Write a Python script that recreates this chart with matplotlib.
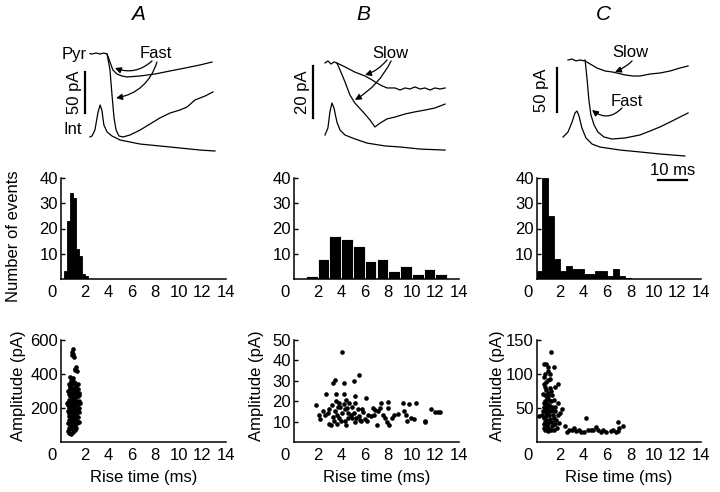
import matplotlib
matplotlib.use('Agg')
import matplotlib.pyplot as plt
from matplotlib.transforms import ScaledTranslation

plt.rcParams['font.family'] = ['Liberation Sans', 'DejaVu Sans']
plt.rcParams['font.size'] = 12

W, H = 720, 492
MS_PX = 2.9  # pixels per ms in the trace panels

# ---------------- traces (ms, pA) ----------------
# column A
a_pyr_small_t = [-0.7, 0, 1.4, 2.8, 4.1, 5.2, 6.2, 7.2, 8.6, 10.3, 12.1, 16.6, 21.7, 26.9, 32.1, 37.2, 41.4]
a_pyr_small_i = [0.5, 0, 1.2, 0, 1.2, 0, -9.8, -19.5, -24.4, -26.8, -28, -26.8, -24.4, -20.7, -17.1, -13.4, -9.8]
a_pyr_big_t = [5.2, 6.2, 6.9, 7.6, 8.3, 9.3, 10.7, 13.1, 16.6, 20, 23.4, 26.9, 30.3, 32.8, 35.5, 39, 41.7]
a_pyr_big_i = [0, -19.5, -50, -78, -92.7, -100, -101.2, -98.8, -92.7, -85.4, -78, -72, -68.3, -64.6, -56.1, -51.2, -46.3]
a_int_t = [-0.7, 0, 1, 2.1, 2.8, 3.4, 4.1, 5.2, 6.9, 9.7, 16.6, 26.9, 37.2, 42.4]
a_int_i = [-101.2, -100, -92.7, -70.7, -62.2, -68.3, -86.6, -95.1, -100, -104.9, -109.8, -113.4, -117.1, -118.3]

# column B
b_pyr_small_t = [0, 1.0, 2.1, 3.1, 4.1, 6.9, 10.3, 13.8, 16.2, 17.9, 19.7, 21.4, 24.1, 25.9, 27.6, 29.3,
                 31, 32.8, 34.5, 36.2, 37.9, 39.7, 41.4]
b_pyr_small_i = [0, 0.8, -0.4, 0.4, 0, -1.5, -3.5, -5, -6.5, -7.7, -8.8, -9.6, -9.6, -10.4, -9.6, -10,
                 -9.2, -10, -9.6, -10.4, -9.6, -10, -9.6]
b_pyr_big_t = [4.1, 5.5, 6.9, 8.6, 10.3, 13.1, 15.5, 17.2, 19, 21.4, 24.1, 27.6, 31, 34.5, 37.9, 41.4]
b_pyr_big_i = [0, -3.5, -7.3, -12.3, -15.4, -18.8, -21.9, -24.6, -23.1, -21.5, -20.8, -19.6, -18.8, -18.1, -17.3, -15.8]
b_int_t = [0, 1, 1.7, 2.4, 3.1, 4.1, 5.2, 6.9, 10.3, 14.5, 20.7, 25.9, 32.8, 41.4]
b_int_i = [-27.7, -25, -18.8, -15.4, -17.3, -22.7, -25.8, -27.7, -29.2, -30.8, -31.9, -32.3, -33.1, -33.5]

# column C
c_pyr_small_t = [0, 1.4, 2.8, 4.1, 5.9, 7.6, 10, 12.8, 15.2, 16.9, 19.7, 22.4, 24.8, 28.3, 31.7, 35.2, 38.6, 41.4]
c_pyr_small_i = [0, 1.1, -1.1, 0, -1.1, -4.5, -9.1, -12.5, -13.6, -14.8, -17, -18.2, -18.2, -15.9, -14.8, -12.5, -9.1, -6.8]
c_pyr_big_t = [5.9, 6.6, 7.2, 7.9, 9, 10.3, 12.4, 15.2, 19.7, 24.8, 28.3, 31.7, 35.2, 38.6, 41.4]
c_pyr_big_i = [0, -22.7, -45.5, -62.5, -73.9, -81.8, -87.5, -89.8, -88.6, -85.2, -80.7, -76.1, -70.5, -64.8, -60.2]
c_int_t = [-1.7, 0, 1.4, 2.4, 3.1, 3.8, 4.8, 6.2, 8.3, 11, 17.9, 24.8, 31.7, 40.3]
c_int_i = [-87.5, -81.8, -70.5, -60.2, -58, -63.6, -77.3, -88.6, -95.5, -98.9, -102.3, -104.5, -106.8, -109.1]

# ---------------- histograms ----------------
hist_a_edges = [0.25, 0.5, 0.75, 1.0, 1.25, 1.5, 1.75, 2.0]
hist_a_counts = [3, 23, 34, 32, 12, 9, 2, 1]
hist_b_edges = [1, 2, 3, 4, 5, 6, 7, 8, 9, 10, 11, 12]
hist_b_counts = [1, 8, 17, 16, 13, 7, 8, 3, 5, 2, 4, 2]
hist_c_edges = [0, 0.5, 1.0, 1.5, 2.0, 2.5, 3.0, 3.5, 4.0, 4.5, 5.0, 5.5, 6.0, 6.5, 7.0, 7.5]
hist_c_counts = [3, 40, 25, 8, 3, 5, 4, 4, 2, 2, 3, 3, 1, 4, 1, 0.5]

# ---------------- scatter (rise time ms, amplitude pA) ----------------
scat_a_x = [0.95, 1.05, 1.0, 1.1, 0.9, 1.15, 1.3, 1.2, 1.35, 0.8, 0.9, 1.0, 0.85, 1.2, 1.4, 1.3, 0.7,
            0.75, 0.9, 1.0, 1.1, 1.25, 1.45, 1.5, 0.6, 0.65, 0.8, 0.95, 1.05, 1.15, 1.3, 1.4, 1.55,
            0.7, 0.85, 1.0, 1.2, 1.35, 1.5, 0.55, 0.6, 0.75, 0.9, 1.05, 1.2, 1.3, 1.45, 1.6,
            0.65, 0.8, 0.95, 1.1, 1.25, 1.4, 1.55, 0.6, 0.7, 0.85, 1.0, 1.15, 1.3, 1.5,
            0.65, 0.8, 0.95, 1.1, 1.2, 1.35, 1.45, 0.7, 0.85, 1.0, 1.15, 1.3, 1.4, 1.5,
            0.6, 0.75, 0.9, 1.05, 1.2, 1.35, 0.65, 0.8, 0.95, 1.1, 1.25, 0.6, 0.7, 0.85, 1.0, 1.15,
            0.75, 0.95, 1.1, 0.8, 1.0, 1.25, 0.9, 1.05, 1.2, 0.7, 0.85, 1.1, 0.95]
scat_a_y = [530, 520, 545, 500, 510, 430, 440, 425, 420, 380, 370, 375, 360, 350, 340, 330, 340,
            320, 310, 300, 320, 300, 310, 290, 300, 280, 270, 280, 260, 275, 265, 270, 275,
            250, 240, 245, 250, 235, 240, 230, 220, 210, 215, 220, 210, 215, 225, 230,
            200, 190, 195, 200, 185, 195, 200, 180, 170, 175, 170, 180, 165, 175,
            155, 150, 160, 150, 140, 150, 145, 130, 125, 135, 120, 125, 115, 120,
            110, 100, 105, 95, 100, 110, 85, 80, 75, 85, 80, 65, 55, 50, 60, 70,
            330, 340, 355, 290, 225, 230, 140, 185, 290, 235, 205, 240, 120]

scat_b_x = [1.9, 2.15, 2.2, 2.5, 2.75, 2.85, 2.95, 3.1, 3.2, 3.35, 3.5, 3.55, 3.5, 3.4, 3.65, 3.65,
            3.8, 3.85, 3.9, 4.1, 4.1, 4.2, 4.2, 4.25, 4.35, 4.45, 4.5, 4.55, 4.65, 4.8, 4.95, 5.05,
            5.1, 5.15, 5.2, 5.2, 5.4, 5.5, 5.55, 5.7, 5.85, 6.0, 6.15, 6.2, 6.5, 6.7, 6.75, 7.05,
            7.1, 7.3, 7.4, 7.55, 7.75, 7.9, 7.95, 7.95, 8.1, 8.3, 8.5, 8.8, 9.25, 9.35, 9.5, 9.6,
            9.75, 9.95, 10.2, 10.35, 11.1, 11.15, 11.65, 12.0, 12.2, 12.4,
            3.0, 3.3, 3.7, 4.0, 4.3, 4.6, 4.9, 5.3, 5.8, 6.3, 3.6, 4.4, 2.6, 5.6, 6.9]
scat_b_y = [18.2, 13.4, 11.5, 15, 23.4, 14.2, 8.9, 8.5, 17.9, 29, 30.6, 23.4, 15, 10.5, 13.4, 8.9,
            19.2, 11.8, 17.4, 44, 14.2, 28.7, 23.4, 18.5, 10.2, 8.5, 16.6, 14.2, 19, 13.4, 11.8, 14.2,
            29.8, 22.6, 19, 9.8, 16.3, 12.6, 32.7, 10.2, 14.7, 11.5, 21.8, 10.2, 12.6, 16.6, 13.1, 8.5,
            15, 16.6, 19, 13.4, 11.8, 9.8, 19.4, 16.9, 8.5, 11.8, 13.1, 13.7, 19, 15.3, 13.4, 10.2,
            18.4, 11.8, 11.5, 19, 10.5, 9.8, 16.3, 14.7, 14.7, 14.7,
            16, 12.5, 17, 10.5, 16, 12, 17, 12, 16, 13, 20, 20.5, 13, 11, 15.5]

scat_c_x = [1.2, 0.6, 0.8, 1.5, 1.0, 1.15, 1.8, 1.55, 0.6, 0.7, 0.85, 1.0, 1.15, 0.75, 1.0, 1.3,
            0.6, 0.85, 1.2, 1.5, 1.85, 2.15, 0.25, 0.45, 0.75, 1.0, 1.3, 1.55, 0.6, 0.85, 1.15, 1.45,
            1.85, 2.0, 0.6, 0.8, 1.0, 1.3, 1.55, 1.95, 1.0, 1.25, 1.45,
            2.45, 2.6, 2.8, 3.0, 3.2, 3.4, 3.65, 3.8, 4.05, 4.2, 4.4, 4.6, 4.85, 5.05, 5.25, 5.45,
            5.7, 5.9, 6.3, 6.55, 6.8, 6.9, 7.05, 7.35, 6.95,
            0.55, 0.65, 0.7, 0.75, 0.8, 0.85, 0.9, 0.95, 0.9, 0.95, 1.05, 1.1, 1.1, 1.2, 1.25, 1.35,
            1.4, 0.65, 0.7, 0.8, 0.9, 1.0, 0.55, 0.6, 0.7, 0.75, 0.95, 1.05, 1.15, 1.3, 1.6, 1.7, 1.75]
scat_c_y = [132, 114, 114, 110, 105, 100, 86, 81, 86, 81, 76, 91, 93, 69, 67, 69,
            57, 58, 60, 62, 58, 49, 38, 40, 47, 50, 47, 45, 35, 38, 34, 36,
            40, 43, 26, 28, 21, 23, 27, 28, 16, 17, 18,
            23, 15, 18, 17, 20, 16, 18, 15, 15, 35, 17, 18, 17, 22, 18, 15,
            17, 15, 16, 18, 14, 30, 21, 23, 16,
            45, 52, 30, 60, 42, 33, 55, 72, 25, 45, 40, 55, 30, 45, 75, 52,
            40, 95, 100, 88, 65, 110, 70, 20, 18, 50, 28, 62, 80, 30, 52, 33, 20]

fig = plt.figure(figsize=(W / 100, H / 100), dpi=100)


def px_axes(x0, y0, x1, y1):
    return fig.add_axes([x0 / W, 1 - y1 / H, (x1 - x0) / W, (y1 - y0) / H])


def trace_axes(box, origin, pa_px):
    x0, y0, x1, y1 = box
    ox, oy = origin
    ax = px_axes(x0, y0, x1, y1)
    ax.set_xlim((x0 - ox) / MS_PX, (x1 - ox) / MS_PX)
    ax.set_ylim(-(y1 - oy) / pa_px, -(y0 - oy) / pa_px)
    ax.axis('off')
    ax.set_zorder(5)  # keep the 10 ms bar above the histogram axes
    return ax


def arrow(ax, text_xy, head_xy, rad):
    ax.annotate('', xy=head_xy, xytext=text_xy,
                arrowprops=dict(arrowstyle='-|>', color='black', lw=0.9,
                                mutation_scale=9, shrinkA=0, shrinkB=0,
                                connectionstyle=f'arc3,rad={rad}'))


tr_kw = dict(color='black', lw=0.9)

# ---- traces A ----
ax = trace_axes((60, 45, 220, 160), (92, 54), 0.82)
ax.plot(a_pyr_small_t, a_pyr_small_i, **tr_kw)
ax.plot(a_pyr_big_t, a_pyr_big_i, **tr_kw)
ax.plot(a_int_t, a_int_i, **tr_kw)
ax.plot([-2.4, -2.4], [-22, -72], color='black', lw=1.6)
ax.text(-5.9, -47, '50 pA', rotation=90, ha='center', va='center')
ax.text(-6.2, 0, 'Pyr', ha='center', va='center')
ax.text(-6.6, -91.5, 'Int', ha='center', va='center')
ax.text(22.1, 1.2, 'Fast', ha='center', va='center')
arrow(ax, (20.7, -8.5), (7.9, -17.1), -0.3)
arrow(ax, (22.4, -9.8), (8.3, -53.7), -0.3)

# ---- traces B ----
ax = trace_axes((295, 45, 470, 160), (325, 63), 2.6)
ax.plot(b_pyr_small_t, b_pyr_small_i, **tr_kw)
ax.plot(b_pyr_big_t, b_pyr_big_i, **tr_kw)
ax.plot(b_int_t, b_int_i, **tr_kw)
ax.plot([-4.1, -4.1], [-1.2, -21.2], color='black', lw=1.6)
ax.text(-7.9, -11.2, '20 pA', rotation=90, ha='center', va='center')
ax.text(22.4, 3.8, 'Slow', ha='center', va='center')
arrow(ax, (21.4, 1.2), (13.8, -4.6), -0.15)
arrow(ax, (22.8, 0.8), (10.3, -14.2), -0.15)

# ---- traces C ----
ax = trace_axes((535, 45, 705, 185), (568, 60), 0.88)
ax.plot(c_pyr_small_t, c_pyr_small_i, **tr_kw)
ax.plot(c_pyr_big_t, c_pyr_big_i, **tr_kw)
ax.plot(c_int_t, c_int_i, **tr_kw)
ax.plot([-3.8, -3.8], [-9.1, -59.1], color='black', lw=1.6)
ax.text(-9.0, -34, '50 pA', rotation=90, ha='center', va='center')
ax.text(21.4, 8, 'Slow', ha='center', va='center')
arrow(ax, (22.1, -1.1), (16.2, -13.6), -0.1)
ax.text(20.3, -47.7, 'Fast', ha='center', va='center')
arrow(ax, (18.6, -54.5), (8.3, -56.8), -0.45)
ax.plot([31, 41], [-136.4, -136.4], color='black', lw=1.6)
ax.text(36, -134, '10 ms', ha='center', va='bottom')

# panel letters
for x, s in [(138, 'A'), (363, 'B'), (603, 'C')]:
    fig.text(x / W, 1 - 15 / H, s, ha='center', va='center', fontsize=15, fontstyle='italic')


def style(ax, yticks, ylim):
    ax.set_xlim(0, 14)
    ax.set_ylim(*ylim)
    ax.set_xticks(range(0, 15, 2))
    ax.set_yticks(yticks)
    for s in ['top', 'right']:
        ax.spines[s].set_visible(False)
    for s in ['left', 'bottom']:
        ax.spines[s].set_linewidth(1.1)
    ax.tick_params(axis='y', direction='in', length=3, width=1, pad=2, labelsize=12)
    ax.tick_params(axis='x', direction='in', length=0, pad=4, labelsize=12)
    lab0 = ax.get_xticklabels()[0]
    lab0.set_transform(lab0.get_transform() + ScaledTranslation(-0.09, 0, fig.dpi_scale_trans))


def draw_hist(ax, edges, counts, width, edge):
    ax.bar(edges, counts, width=width, align='edge', color='black', edgecolor=edge, linewidth=0.6)


# ---- histograms ----
hist_top, hist_bot = 178, 279
ax = px_axes(61, hist_top, 226, hist_bot)
draw_hist(ax, hist_a_edges, hist_a_counts, 0.25, 'black')
style(ax, [10, 20, 30, 40], (0, 40))
ax.set_ylabel('Number of events', fontsize=12)
ax.yaxis.set_label_coords(-0.245, 0.42)

ax = px_axes(294, hist_top, 459, hist_bot)
draw_hist(ax, hist_b_edges, hist_b_counts, 1.0, 'white')
style(ax, [10, 20, 30, 40], (0, 40))

ax = px_axes(536.5, hist_top, 701, hist_bot)
draw_hist(ax, hist_c_edges, hist_c_counts, 0.5, 'black')
style(ax, [10, 20, 30, 40], (0, 40))

# ---- scatter ----
sc_top, sc_bot = 340, 442
sc_kw = dict(s=11, color='black', linewidths=0)
panels = [
    (61, 226, scat_a_x, scat_a_y, [200, 400, 600], (0, 600), -0.21),
    (294, 459, scat_b_x, scat_b_y, [10, 20, 30, 40, 50], (0, 50), -0.18),
    (536.5, 701, scat_c_x, scat_c_y, [50, 100, 150], (0, 150), -0.19),
]
for x0, x1, xs, ys, yt, yl, lx in panels:
    ax = px_axes(x0, sc_top, x1, sc_bot)
    ax.scatter(xs, ys, **sc_kw)
    style(ax, yt, yl)
    ax.set_ylabel('Amplitude (pA)', fontsize=12)
    ax.yaxis.set_label_coords(lx, 0.55)
    ax.set_xlabel('Rise time (ms)', fontsize=12)
    ax.xaxis.set_label_coords(0.5, -0.27)

fig.savefig('out.png', dpi=100)
